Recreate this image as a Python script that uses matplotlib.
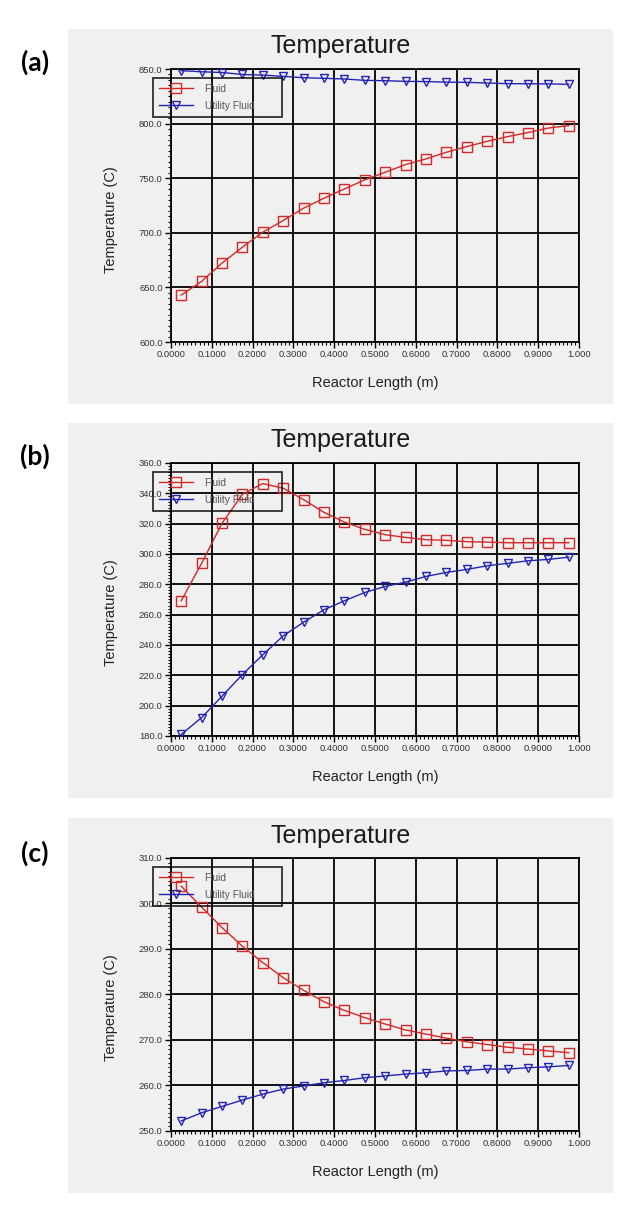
import matplotlib.pyplot as plt
from matplotlib.patches import Rectangle
from matplotlib.ticker import AutoMinorLocator

plt.rcParams['font.family'] = ['Liberation Sans', 'DejaVu Sans']

# reactor positions (m)
x = [0.025, 0.075, 0.125, 0.175, 0.225, 0.275, 0.325, 0.375, 0.425, 0.475,
     0.525, 0.575, 0.625, 0.675, 0.725, 0.775, 0.825, 0.875, 0.925, 0.975]

fluid_a = [643.0, 655.5, 672.3, 686.9, 700.6, 711.3, 722.6, 731.7, 740.2, 748.5,
           755.5, 762.5, 767.7, 773.8, 779.0, 783.8, 788.1, 791.8, 796.0, 798.2]
utility_a = [848.5, 847.5, 846.8, 845.0, 844.4, 843.3, 842.0, 841.5, 840.9, 839.6,
             839.3, 838.7, 838.5, 838.0, 837.8, 837.2, 836.6, 836.5, 836.4, 836.0]

fluid_b = [269.1, 293.8, 320.2, 339.3, 346.4, 343.3, 335.8, 327.4, 321.0, 316.2,
           312.7, 310.9, 309.4, 309.0, 308.1, 307.8, 307.4, 307.4, 307.4, 307.4]
utility_b = [181.0, 192.1, 206.2, 220.5, 233.5, 246.0, 255.0, 263.2, 269.1, 274.6,
             278.6, 281.4, 285.2, 287.8, 289.8, 292.2, 293.8, 295.5, 296.4, 297.9]

fluid_c = [303.8, 299.2, 294.7, 290.6, 287.0, 283.7, 280.9, 278.4, 276.5, 274.9,
           273.5, 272.2, 271.3, 270.4, 269.6, 269.0, 268.4, 268.0, 267.6, 267.2]
utility_c = [252.2, 254.0, 255.4, 256.8, 258.1, 259.2, 259.9, 260.6, 261.1, 261.7,
             262.1, 262.5, 262.8, 263.2, 263.3, 263.6, 263.6, 263.9, 264.1, 264.4]

xticks = [0.0, 0.1, 0.2, 0.3, 0.4, 0.5, 0.6, 0.7, 0.8, 0.9, 1.0]
xticklabels = ['0.0000', '0.1000', '0.2000', '0.3000', '0.4000', '0.5000',
               '0.6000', '0.7000', '0.8000', '0.9000', '1.000']
yticks_a = [600, 650, 700, 750, 800, 850]
yticks_b = [180, 200, 220, 240, 260, 280, 300, 320, 340, 360]
yticks_c = [250, 260, 270, 280, 290, 300, 310]

panels = [
    ('(a)', fluid_a, utility_a, yticks_a, 0.7210, 0.6705, 0.9494, 0.9625),
    ('(b)', fluid_b, utility_b, yticks_b, 0.3997, 0.3491, 0.6280, 0.6411),
    ('(c)', fluid_c, utility_c, yticks_c, 0.0775, 0.0269, 0.3042, 0.3181),
]

fig = plt.figure(figsize=(6.35, 12.26), dpi=100)
red = '#d42828'
blue = '#2323b4'

for tag, fluid, utility, yt, ax_bottom, box_bottom, tag_y, title_y in panels:
    fig.add_artist(Rectangle((0.1071, box_bottom), 0.8583, 0.3059,
                             transform=fig.transFigure, facecolor='#f0f0f0',
                             edgecolor='none', zorder=0))
    ax = fig.add_axes([0.2693, ax_bottom, 0.6425, 0.2227])
    ax.set_facecolor('none')

    ax.plot(x, fluid, color=red, lw=1, marker='s', ms=6.5, mfc='none',
            mec=red, mew=1, label='Fluid', zorder=3)
    ax.plot(x, utility, color=blue, lw=1, marker='v', ms=6, mfc='none',
            mec=blue, mew=1, label='Utility Fluid', zorder=3)

    ax.set_xlim(0, 1)
    ax.set_ylim(yt[0], yt[-1])
    ax.set_xticks(xticks)
    ax.set_xticklabels(xticklabels)
    ax.set_yticks(yt)
    ax.set_yticklabels(['%.1f' % v for v in yt])
    ax.xaxis.set_minor_locator(AutoMinorLocator(10))
    ax.yaxis.set_minor_locator(AutoMinorLocator(10))
    ax.tick_params(which='major', length=4, width=1, labelsize=6.8,
                   labelcolor='#333333', pad=2)
    ax.tick_params(which='minor', length=2, width=0.8)
    ax.grid(True, which='major', color='black', lw=1.3)
    for s in ax.spines.values():
        s.set_linewidth(1.3)

    ax.set_xlabel('Reactor Length (m)', fontsize=10.5, color='#222222')
    ax.xaxis.set_label_coords(0.5, -0.125)
    ax.set_ylabel('Temperature (C)', fontsize=10.5, color='#222222')
    ax.yaxis.set_label_coords(-0.13, 0.45)

    leg = ax.legend(loc='upper left', bbox_to_anchor=(-0.044, 0.824, 0.316, 0.143),
                    mode='expand', borderaxespad=0, fontsize=7.3, fancybox=False,
                    edgecolor='black', handlelength=3.4, handletextpad=1.1,
                    labelspacing=0.67, borderpad=0.58)
    frame = leg.get_frame()
    frame.set_facecolor('none')
    frame.set_linewidth(1.3)
    for t in leg.get_texts():
        t.set_color('#555555')

    fig.text(0.536, title_y, 'Temperature', fontsize=18, ha='center',
             va='center', color='#1a1a1a')
    fig.text(0.0551, tag_y, tag, fontsize=19, fontweight='bold', ha='center',
             va='center', family=['Lato', 'DejaVu Sans'])

fig.savefig('out.png', dpi=100, facecolor='white')
